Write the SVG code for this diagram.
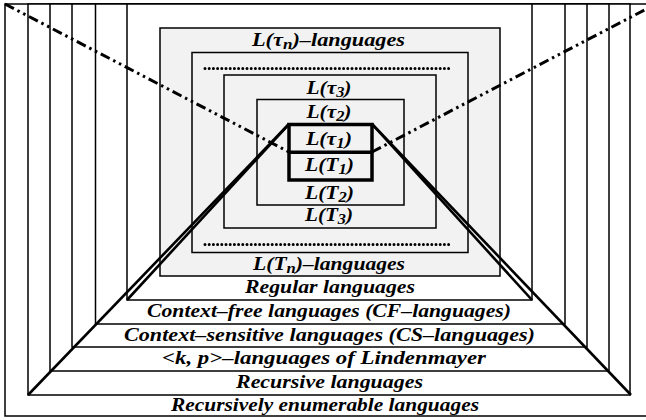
<svg xmlns="http://www.w3.org/2000/svg" width="646" height="420" viewBox="0 0 646 420">
<style>
.box{fill:#fff;stroke:#000;stroke-width:1.5}
.gbox{fill:#f2f2f2;stroke:#000;stroke-width:1.5}
.in{fill:none;stroke:#000;stroke-width:1.5}
.thick{fill:none;stroke:#000;stroke-width:3.5}
.dots{stroke:#000;stroke-width:3;stroke-dasharray:0 4.2;stroke-linecap:round;fill:none}
.dd{stroke:#000;stroke-width:3;stroke-dasharray:10 4 2.5 4 2.5 4;fill:none}
.diag{stroke:#000;stroke-width:2.6;fill:none}
.t{font-family:"Liberation Serif","DejaVu Serif",serif;font-weight:bold;font-style:italic;font-size:19.5px;fill:#000}
.sub{font-size:15px}
</style>
<rect width="646" height="420" fill="#fff"/>
<g id="re"><rect class="box" x="5" y="4" width="650" height="412"/></g>
<g id="recursive"><rect class="box" x="28" y="4" width="602" height="391"/></g>
<g id="kp"><rect class="box" x="50" y="4" width="559" height="367"/></g>
<g id="cs"><rect class="box" x="72" y="4" width="515" height="343"/></g>
<g id="cf"><rect class="box" x="95.5" y="4" width="469.5" height="320"/></g>
<g id="regular"><rect class="box" x="127" y="4" width="405" height="296"/></g>
<g id="taun"><rect class="gbox" x="160" y="28" width="340" height="248"/></g>
<g id="dotsbox"><rect class="in" x="192" y="52.5" width="276" height="200"/></g>
<g id="tau3"><rect class="in" x="224" y="75" width="212" height="153"/></g>
<g id="tau2"><rect class="in" x="257" y="99.5" width="147" height="105.5"/></g>
<g id="dotrows">
<line class="dots" x1="205" y1="68.5" x2="452" y2="68.5"/>
<line class="dots" x1="205" y1="244.5" x2="452" y2="244.5"/>
</g>
<g id="connectors">
<line class="dd" x1="5" y1="4" x2="289" y2="152"/>
<line class="dd" x1="372" y1="152" x2="656" y2="4"/>
<line class="diag" x1="289" y1="124" x2="28" y2="395"/>
<line class="diag" x1="289" y1="124" x2="127" y2="300"/>
<line class="diag" x1="372" y1="124" x2="631" y2="395"/>
<line class="diag" x1="372" y1="124" x2="532" y2="300"/>
</g>
<g id="tau1T1">
<rect class="thick" x="289" y="124.5" width="83" height="55.5"/>
<line class="thick" x1="289" y1="152.3" x2="372" y2="152.3"/>
</g>
<g id="labels">
<text class="t" x="252" y="46" textLength="153" lengthAdjust="spacingAndGlyphs">L(τ<tspan class="sub" dy="3">n</tspan><tspan dy="-3">)–languages</tspan></text>
<text class="t" x="306.5" y="94" textLength="45" lengthAdjust="spacingAndGlyphs">L(τ<tspan class="sub" dy="3">3</tspan><tspan dy="-3">)</tspan></text>
<text class="t" x="306.5" y="118" textLength="45" lengthAdjust="spacingAndGlyphs">L(τ<tspan class="sub" dy="3">2</tspan><tspan dy="-3">)</tspan></text>
<text class="t" x="306" y="145" textLength="46" lengthAdjust="spacingAndGlyphs">L(τ<tspan class="sub" dy="3">1</tspan><tspan dy="-3">)</tspan></text>
<text class="t" x="305" y="171" textLength="49" lengthAdjust="spacingAndGlyphs">L(T<tspan class="sub" dy="3">1</tspan><tspan dy="-3">)</tspan></text>
<text class="t" x="305" y="199" textLength="49" lengthAdjust="spacingAndGlyphs">L(T<tspan class="sub" dy="3">2</tspan><tspan dy="-3">)</tspan></text>
<text class="t" x="305" y="221" textLength="48" lengthAdjust="spacingAndGlyphs">L(T<tspan class="sub" dy="3">3</tspan><tspan dy="-3">)</tspan></text>
<text class="t" x="253" y="270" textLength="152" lengthAdjust="spacingAndGlyphs">L(T<tspan class="sub" dy="3">n</tspan><tspan dy="-3">)–languages</tspan></text>
<text class="t" x="245" y="293" textLength="170" lengthAdjust="spacingAndGlyphs">Regular languages</text>
<text class="t" x="147" y="317" textLength="364" lengthAdjust="spacingAndGlyphs">Context–free languages (CF–languages)</text>
<text class="t" x="124" y="341" textLength="411" lengthAdjust="spacingAndGlyphs">Context–sensitive languages (CS–languages)</text>
<text class="t" x="162" y="364" textLength="324" lengthAdjust="spacingAndGlyphs">&lt;k, p&gt;–languages of Lindenmayer</text>
<text class="t" x="236" y="388" textLength="187" lengthAdjust="spacingAndGlyphs">Recursive languages</text>
<text class="t" x="171" y="411" textLength="308" lengthAdjust="spacingAndGlyphs">Recursively enumerable languages</text>
</g>
</svg>
